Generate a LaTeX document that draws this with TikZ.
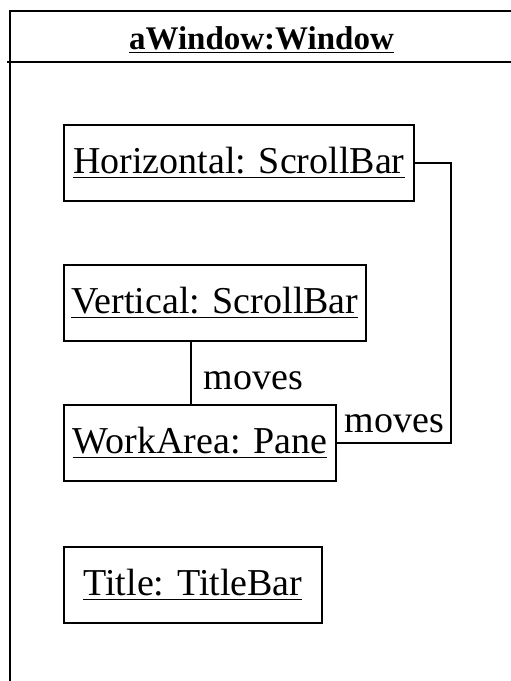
\documentclass[tikz,border=0pt]{standalone}
\usepackage{fontspec}
\setmainfont{Liberation Serif}
\begin{document}
\begin{tikzpicture}[x=0.5pt, y=-0.5pt, line width=0.9pt,
  obj/.style={draw, inner sep=0pt, minimum height=38pt, anchor=north west,
    font=\fontsize{19}{23}\selectfont},
  lbl/.style={inner sep=0pt, font=\fontsize{19}{23}\selectfont}]
  \useasboundingbox (0,0) rectangle (510,681);

  % 外枠と見出し
  \draw (10,690) -- (10,11) -- (520,11);
  \draw (7,62) -- (520,62);
  \node[inner sep=0pt, anchor=base, font=\fontsize{16.5}{20}\selectfont\bfseries]
    (win) at (261.5,49) {\underline{aWindow:Window}};

  % オブジェクト
  \node[obj, minimum width=175pt] (hbar)  at (63,124) {\underline{Horizontal: ScrollBar}};
  \node[obj, minimum width=151pt] (vbar)  at (63,264) {\underline{Vertical: ScrollBar}};
  \node[obj, minimum width=136pt] (work)  at (63,404) {\underline{WorkArea: Pane}};
  \node[obj, minimum width=129pt] (title) at (63,546) {\underline{Title: TitleBar}};

  % リンク
  \coordinate (rail) at (451,300);
  \draw (hbar.east) -| (rail) |- (work.east);
  \draw ([xshift=64pt]vbar.south west) -- ([xshift=64pt]work.north west);

  % ラベル
  \node[lbl, anchor=base west] (m1) at (203,389) {moves};
  \node[lbl, anchor=base east] (m2) at (445,432) {moves};
\end{tikzpicture}
\end{document}
